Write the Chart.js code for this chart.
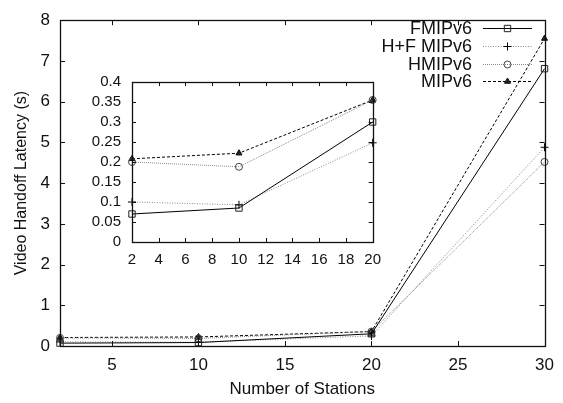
<!DOCTYPE html>
<html>
<head>
<meta charset="utf-8">
<script src="https://cdn.jsdelivr.net/npm/chart.js@4.4.1/dist/chart.umd.min.js"></script>
<style>
  html, body { margin: 0; padding: 0; background: #fff; }
  #wrap { position: relative; width: 563px; height: 403px; }
  #main { position: absolute; left: 0; top: 0; }
  #inset { position: absolute; left: 80px; top: 62px; }
</style>
</head>
<body>
<div id="wrap">
  <canvas id="main" width="563" height="403"></canvas>
  <canvas id="inset" width="310" height="213"></canvas>
</div>
<script>
// data
const stations = [2, 10, 20, 30];
const seriesNames = ["FMIPv6", "H+F MIPv6", "HMIPv6", "MIPv6"];
const fmipv6 = [0.07, 0.085, 0.30, 6.81];
const hfmipv6 = [0.10, 0.093, 0.248, 4.88];
const hmipv6 = [0.20, 0.188, 0.355, 4.52];
const mipv6 = [0.208, 0.222, 0.355, 7.55];

const mainXTicks = [5, 10, 15, 20, 25, 30];
const mainYTicks = [0, 1, 2, 3, 4, 5, 6, 7, 8];
const insetXTicks = [2, 4, 6, 8, 10, 12, 14, 16, 18, 20];
const insetYTicks = [0, 0.05, 0.1, 0.15, 0.2, 0.25, 0.3, 0.35, 0.4];
const insetMaxStation = 20;

const FONT = "'Liberation Sans', Arial, Helvetica, sans-serif";

// line / marker look for each series
const styles = [
    { color: "#000", dash: [], point: "rect", radius: 4.5, pointColor: "#222", fill: "rgba(255,255,255,0)" },
    { color: "#8a8a8a", dash: [1, 1.5], point: "cross", radius: 4, pointColor: "#000", fill: "rgba(0,0,0,0)" },
    { color: "#8a8a8a", dash: [1, 1], point: "circle", radius: 3.5, pointColor: "#444", fill: "rgba(255,255,255,0)" },
    { color: "#000", dash: [3, 2], point: "triangle", radius: 3.5, pointColor: "#111", fill: "#222" },
];
const allSeries = [fmipv6, hfmipv6, hmipv6, mipv6];

function makeDatasets(maxX) {
    return allSeries.map((vals, i) => {
        const st = styles[i];
        const pts = [];
        stations.forEach((s, j) => {
            if (s <= maxX) pts.push({ x: s, y: vals[j] });
        });
        return {
            label: seriesNames[i],
            data: pts,
            borderColor: st.color,
            borderWidth: 1,
            borderDash: st.dash,
            pointStyle: st.point,
            pointRadius: st.radius,
            pointBorderColor: st.pointColor,
            pointBackgroundColor: st.fill,
            pointBorderWidth: 1,
            tension: 0,
            clip: false,
        };
    });
}

// Frame and inward tick marks like gnuplot
const framePlugin = {
    id: "frame",
    afterDraw(chart, args, opts) {
        const ctx = chart.ctx;
        const a = chart.chartArea;
        const len = opts.len || 5;
        ctx.save();
        ctx.strokeStyle = "#111";
        ctx.lineWidth = 1;
        ctx.setLineDash([]);
        ctx.beginPath();
        chart.scales.x.ticks.forEach((t) => {
            const px = Math.round(chart.scales.x.getPixelForValue(t.value)) + 0.5;
            ctx.moveTo(px, a.bottom);
            ctx.lineTo(px, a.bottom - len);
            ctx.moveTo(px, a.top);
            ctx.lineTo(px, a.top + len);
        });
        chart.scales.y.ticks.forEach((t) => {
            const py = Math.round(chart.scales.y.getPixelForValue(t.value)) + 0.5;
            ctx.moveTo(a.left, py);
            ctx.lineTo(a.left + len, py);
            ctx.moveTo(a.right, py);
            ctx.lineTo(a.right - len, py);
        });
        ctx.stroke();
        ctx.lineWidth = 1.3;
        ctx.strokeRect(Math.round(a.left) + 0.5, Math.round(a.top) + 0.5,
            Math.round(a.right - a.left), Math.round(a.bottom - a.top));
        ctx.restore();
    },
};

// gnuplot style key: text on the left, sample line with marker on the right
const keyPlugin = {
    id: "key",
    afterDraw(chart) {
        const ctx = chart.ctx;
        const textRight = 472, lineStart = 483, lineEnd = 532, rowTop = 28, rowGap = 17.8;
        ctx.save();
        chart.data.datasets.forEach((ds, i) => {
            const y = rowTop + i * rowGap;
            ctx.font = "18px " + FONT;
            ctx.fillStyle = "#111";
            ctx.textAlign = "right";
            ctx.textBaseline = "middle";
            ctx.fillText(ds.label, textRight, y + 1);
            ctx.strokeStyle = ds.borderColor;
            ctx.lineWidth = 1;
            ctx.setLineDash(ds.borderDash);
            ctx.beginPath();
            ctx.moveTo(lineStart, Math.round(y) + 0.5);
            ctx.lineTo(lineEnd, Math.round(y) + 0.5);
            ctx.stroke();
            ctx.setLineDash([]);
            ctx.strokeStyle = ds.pointBorderColor;
            ctx.fillStyle = ds.pointBackgroundColor;
            Chart.helpers.drawPoint(ctx, {
                pointStyle: ds.pointStyle,
                radius: ds.pointRadius,
                rotation: 0,
                borderWidth: 1,
            }, (lineStart + lineEnd) / 2, Math.round(y) + 0.5);
        });
        ctx.restore();
    },
};

function fixedTicks(list) {
    return function (scale) {
        scale.ticks = list.map((v) => ({ value: v }));
    };
}

// Main chart
const mainChart = new Chart(document.getElementById("main"), {
    type: "line",
    data: { datasets: makeDatasets(Infinity) },
    options: {
        responsive: false,
        animation: false,
        layout: { padding: { top: 14, right: 11, left: 0, bottom: 0 } },
        plugins: {
            legend: { display: false },
            tooltip: { enabled: false },
            frame: { len: 5 },
        },
        scales: {
            x: {
                type: "linear",
                min: 2,
                max: 30,
                afterBuildTicks: fixedTicks(mainXTicks),
                afterFit: (s) => { s.height = 57; },
                grid: { display: false, drawTicks: false },
                border: { display: false },
                ticks: { autoSkip: false, maxRotation: 0, padding: 9, color: "#111", font: { family: FONT, size: 17 } },
                title: {
                    display: true,
                    text: "Number of Stations",
                    color: "#111",
                    font: { family: FONT, size: 17 },
                    padding: { top: 0, bottom: 3 },
                },
            },
            y: {
                min: 0,
                max: 8,
                afterBuildTicks: fixedTicks(mainYTicks),
                afterFit: (s) => { s.width = 60; },
                grid: { display: false, drawTicks: false },
                border: { display: false },
                ticks: { autoSkip: false, padding: 10, color: "#111", font: { family: FONT, size: 17 } },
                title: {
                    display: true,
                    text: "Video Handoff Latency (s)",
                    color: "#111",
                    font: { family: FONT, size: 16 },
                    padding: { top: 12, bottom: 0 },
                },
            },
        },
    },
    plugins: [framePlugin, keyPlugin],
});

// Inset zoom on the first three station counts
const insetChart = new Chart(document.getElementById("inset"), {
    type: "line",
    data: { datasets: makeDatasets(insetMaxStation) },
    options: {
        responsive: false,
        animation: false,
        layout: { padding: { top: 13, right: 12, left: 0, bottom: 0 } },
        plugins: {
            legend: { display: false },
            tooltip: { enabled: false },
            frame: { len: 4 },
        },
        scales: {
            x: {
                type: "linear",
                min: 2,
                max: 20,
                afterBuildTicks: fixedTicks(insetXTicks),
                afterFit: (s) => { s.height = 33; },
                grid: { display: false, drawTicks: false },
                border: { display: false },
                ticks: { autoSkip: false, maxRotation: 0, padding: 9, color: "#111", font: { family: FONT, size: 15 } },
            },
            y: {
                min: 0,
                max: 0.4,
                afterBuildTicks: fixedTicks(insetYTicks),
                afterFit: (s) => { s.width = 52; },
                grid: { display: false, drawTicks: false },
                border: { display: false },
                ticks: {
                    autoSkip: false,
                    padding: 11,
                    color: "#111",
                    font: { family: FONT, size: 15 },
                    callback: (v) => String(v),
                },
            },
        },
    },
    plugins: [framePlugin],
});
</script>
</body>
</html>
